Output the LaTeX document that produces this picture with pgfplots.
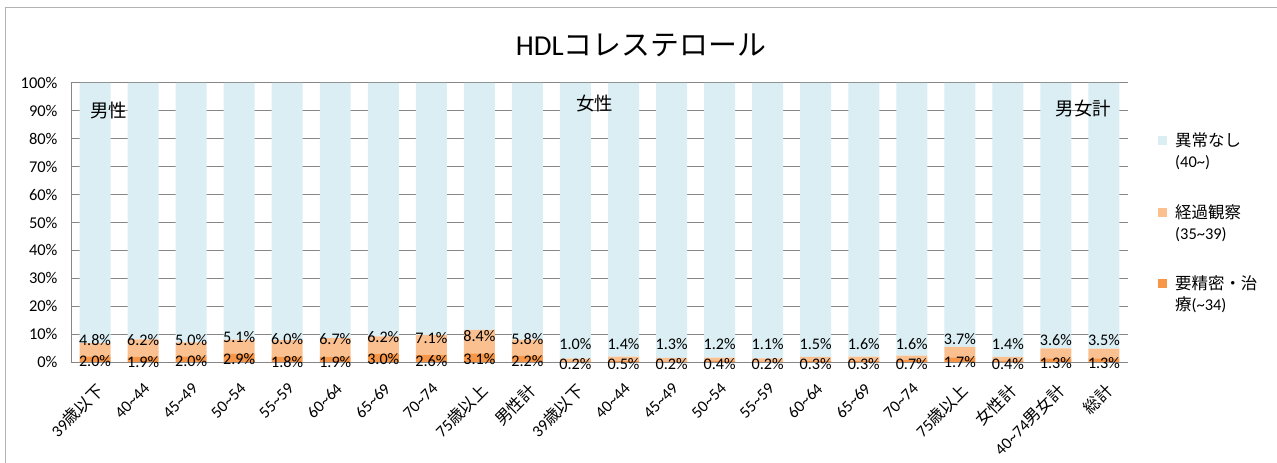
\documentclass[border=0pt]{standalone}
\usepackage{pgfplots}
\pgfplotsset{compat=1.18}
\usepackage{fontspec}
\setmainfont{Carlito}
\newfontfamily\jp{Noto Sans CJK JP}
\definecolor{cNormal}{HTML}{DAEEF3}
\definecolor{cObs}{HTML}{FAC090}
\definecolor{cTreat}{HTML}{F79646}
\definecolor{cGrid}{HTML}{868686}
\pgfplotsset{sqlegend/.style={legend image code/.code={\fill[##1] (0bp,1.5bp) rectangle (9bp,10.5bp);}}}
\newcommand{\legtxt}[2]{\begin{tabular}[t]{@{}l@{}}#1\\#2\end{tabular}}
\newcommand{\dl}[3]{\node[font=\fontsize{16.2}{20}\selectfont] at (axis cs:#1,#2) {#3\%};}
\newcommand{\alllabels}{%
% group labels
\node[font=\fontsize{18.5}{22}\selectfont\jp] at (axis cs:0.29,90.3) {男性};
\node[font=\fontsize{18.5}{22}\selectfont\jp] at (axis cs:10.4,92.5) {女性};
\node[font=\fontsize{18.5}{22}\selectfont\jp] at (axis cs:20.57,91.0) {男女計};
% data labels: upper (経過観察)
\dl{0}{8.0}{4.8}\dl{1}{7.9}{6.2}\dl{2}{8.0}{5.0}\dl{3}{9.1}{5.1}\dl{4}{8.1}{6.0}
\dl{5}{8.1}{6.7}\dl{6}{8.8}{6.2}\dl{7}{8.6}{7.1}\dl{8}{9.4}{8.4}\dl{9}{8.4}{5.8}
\dl{10}{6.3}{1.0}\dl{11}{6.3}{1.4}\dl{12}{6.3}{1.3}\dl{13}{6.3}{1.2}\dl{14}{6.3}{1.1}
\dl{15}{6.3}{1.5}\dl{16}{6.3}{1.6}\dl{17}{6.3}{1.6}\dl{18}{8.1}{3.7}\dl{19}{6.3}{1.4}
\dl{20}{7.9}{3.6}\dl{21}{7.9}{3.5}
% data labels: lower (要精密・治療)
\dl{0}{0.5}{2.0}\dl{1}{0.0}{1.9}\dl{2}{0.5}{2.0}\dl{3}{1.2}{2.9}\dl{4}{0.0}{1.8}
\dl{5}{0.0}{1.9}\dl{6}{1.2}{3.0}\dl{7}{0.3}{2.6}\dl{8}{1.0}{3.1}\dl{9}{0.5}{2.2}
\dl{10}{-0.8}{0.2}\dl{11}{-0.8}{0.5}\dl{12}{-0.8}{0.2}\dl{13}{-0.8}{0.4}\dl{14}{-0.8}{0.2}
\dl{15}{-0.8}{0.3}\dl{16}{-0.8}{0.3}\dl{17}{-0.8}{0.7}\dl{18}{0.1}{1.7}\dl{19}{-0.8}{0.4}
\dl{20}{-0.4}{1.3}\dl{21}{-0.4}{1.3}}
\begin{document}
\begin{tikzpicture}
\useasboundingbox (0bp,0bp) rectangle (1277bp,463bp);
\draw[gray!60, line width=1bp] (5bp,0bp) -- (5bp,455bp) -- (1277bp,455bp);
\node[font=\fontsize{29}{34}\selectfont] at (641bp,418bp) {HDL{\jp コレステロール}};
\begin{axis}[
  at={(71bp,101bp)}, anchor=south west,
  scale only axis, width=1057bp, height=279bp,
  ybar stacked, bar width=0.645,
  xmin=-0.5, xmax=21.5, ymin=0, ymax=100,
  axis x line*=bottom, axis y line*=left,
  axis line style={cGrid, line width=1bp},
  ymajorgrids, grid style={cGrid, line width=1bp},
  major tick length=0pt,
  ytick={0,10,...,100},
  /pgf/number format/assume math mode=true,
  yticklabel={\pgfmathprintnumber{\tick}\%},
  yticklabel style={font=\fontsize{16.5}{20}\selectfont, xshift=-10bp},
  xtick={0,...,21},
  xticklabels={{39{\jp 歳以下}},{40\textasciitilde44},{45\textasciitilde49},{50\textasciitilde54},{55\textasciitilde59},{60\textasciitilde64},{65\textasciitilde69},{70\textasciitilde74},{75{\jp 歳以上}},{{\jp 男性計}},
    {39{\jp 歳以下}},{40\textasciitilde44},{45\textasciitilde49},{50\textasciitilde54},{55\textasciitilde59},{60\textasciitilde64},{65\textasciitilde69},{70\textasciitilde74},{75{\jp 歳以上}},{{\jp 女性計}},{40\textasciitilde74{\jp 男女計}},{{\jp 総計}}},
  xticklabel shift=20bp,
  xticklabel style={font=\fontsize{16.5}{20}\selectfont, rotate=45, anchor=north east, inner sep=0pt},
  reverse legend,
  legend style={at={(1.0284,0.831)}, anchor=north west, draw=none, fill=none,
    inner sep=0pt, font=\fontsize{16.5}{21}\selectfont, row sep=51bp, column sep=6bp,
    cells={anchor=base west, inner sep=0pt}},
  after end axis/.code={\alllabels},
]
\addplot[fill=cTreat, draw=none, sqlegend] coordinates {
 (0,2.0) (1,1.9) (2,2.0) (3,2.9) (4,1.8) (5,1.9) (6,3.0) (7,2.6) (8,3.1) (9,2.2)
 (10,0.2) (11,0.5) (12,0.2) (13,0.4) (14,0.2) (15,0.3) (16,0.3) (17,0.7) (18,1.7) (19,0.4) (20,1.3) (21,1.3)};
\addlegendentry{\legtxt{{\jp 要精密・治}}{{\jp 療}(\textasciitilde34)}}
\addplot[fill=cObs, draw=none, sqlegend] coordinates {
 (0,4.8) (1,6.2) (2,5.0) (3,5.1) (4,6.0) (5,6.7) (6,6.2) (7,7.1) (8,8.4) (9,5.8)
 (10,1.0) (11,1.4) (12,1.3) (13,1.2) (14,1.1) (15,1.5) (16,1.6) (17,1.6) (18,3.7) (19,1.4) (20,3.6) (21,3.5)};
\addlegendentry{\legtxt{{\jp 経過観察}}{(35\textasciitilde39)}}
\addplot[fill=cNormal, draw=none, sqlegend] coordinates {
 (0,93.2) (1,91.9) (2,93.0) (3,92.0) (4,92.2) (5,91.4) (6,90.8) (7,90.3) (8,88.5) (9,92.0)
 (10,98.8) (11,98.1) (12,98.5) (13,98.4) (14,98.7) (15,98.2) (16,98.1) (17,97.7) (18,94.6) (19,98.2) (20,95.1) (21,95.2)};
\addlegendentry{\legtxt{{\jp 異常なし}}{(40\textasciitilde)}}
\end{axis}
\end{tikzpicture}
\end{document}
